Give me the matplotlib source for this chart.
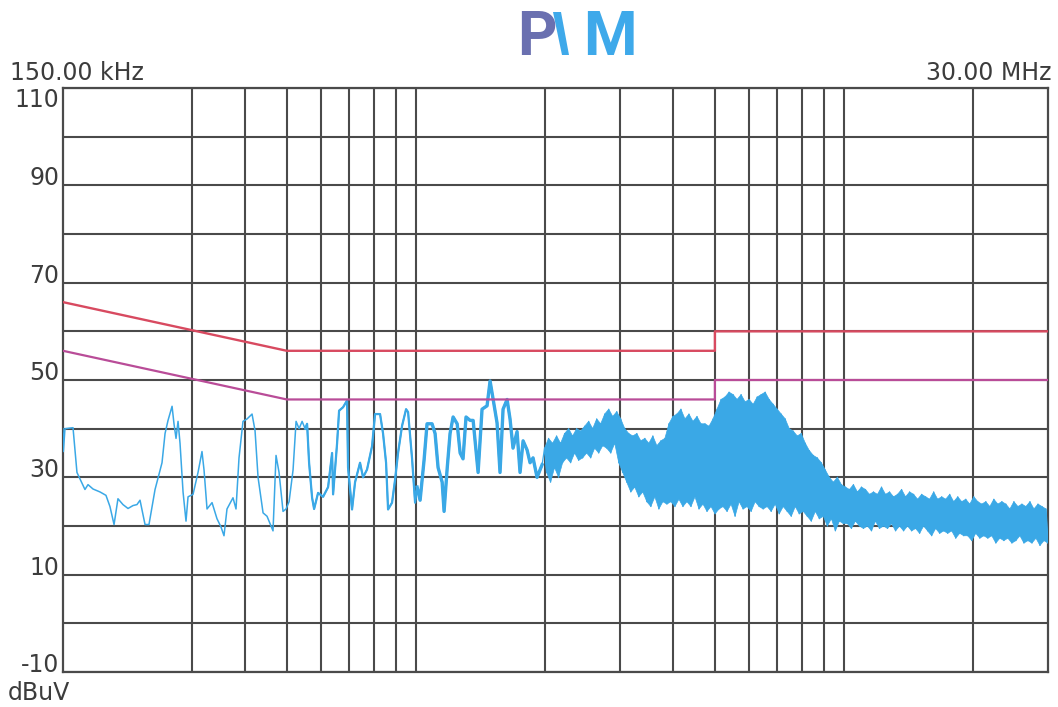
import numpy as np
import matplotlib
matplotlib.use("Agg")
import matplotlib.pyplot as plt
from matplotlib.patches import Polygon
from matplotlib import font_manager

# ---- measured conducted emission, 150 kHz ... 2 MHz (MHz, dBuV) ----
low_freq_mhz = [
    0.1500, 0.1503, 0.1516, 0.1583, 0.1617, 0.1688, 0.1716, 0.1763, 0.1830, 0.1890,
    0.1931, 0.1974, 0.2016, 0.2071, 0.2128, 0.2186, 0.2233, 0.2270, 0.2332, 0.2382,
    0.2461, 0.2555, 0.2597, 0.2639, 0.2697, 0.2725, 0.2755, 0.2785, 0.2815, 0.2861,
    0.2907, 0.2939, 0.3019, 0.3101, 0.3168, 0.3203, 0.3255, 0.3344, 0.3434, 0.3509,
    0.3566, 0.3624, 0.3743, 0.3804, 0.3866, 0.3950, 0.4037, 0.4147, 0.4214, 0.4283,
    0.4400, 0.4495, 0.4568, 0.4642, 0.4718, 0.4795, 0.4899, 0.4979, 0.5061, 0.5170,
    0.5255, 0.5341, 0.5428, 0.5516, 0.5576, 0.5636, 0.5728, 0.5790, 0.5915, 0.6077,
    0.6243, 0.6378, 0.6413, 0.6552, 0.6623, 0.6766, 0.6913, 0.6950, 0.7101, 0.7217,
    0.7413, 0.7534, 0.7697, 0.7908, 0.8037, 0.8256, 0.8390, 0.8527, 0.8619, 0.8806,
    0.8950, 0.9095, 0.9294, 0.9496, 0.9599, 0.9808, 0.9967, 1.0076, 1.024, 1.046,
    1.063, 1.092, 1.110, 1.128, 1.153, 1.165, 1.184, 1.203, 1.223, 1.250,
    1.270, 1.290, 1.311, 1.340, 1.362, 1.399, 1.429, 1.468, 1.492, 1.517,
    1.549, 1.574, 1.600, 1.635, 1.661, 1.688, 1.725, 1.753, 1.782, 1.821,
    1.850, 1.880, 1.921, 1.974,
]
low_level_dbuv = [
    40.0, 35.3, 40.0, 40.2, 31.0, 27.5, 28.5, 27.6, 27.0, 26.3,
    24.0, 20.3, 25.6, 24.4, 23.6, 24.2, 24.4, 25.3, 20.3, 20.3,
    27.5, 33.0, 39.0, 41.7, 44.6, 41.0, 38.0, 41.5, 37.0, 27.0,
    21.0, 26.0, 26.5, 31.0, 35.3, 31.5, 23.5, 24.8, 21.5, 19.8,
    18.0, 23.5, 25.8, 23.5, 34.0, 41.5, 42.0, 43.0, 39.6, 30.0,
    22.7, 22.0, 20.5, 19.0, 34.5, 31.0, 23.0, 23.5, 25.0, 31.5,
    41.5, 40.0, 41.5, 40.0, 41.0, 33.0, 25.8, 23.5, 26.8, 26.0,
    28.0, 35.0, 26.5, 37.0, 43.7, 44.4, 45.8, 32.0, 23.4, 29.0,
    33.0, 30.0, 31.6, 36.4, 43.0, 43.0, 39.0, 33.0, 23.4, 24.8,
    29.5, 35.0, 40.6, 44.0, 43.4, 33.8, 24.8, 28.0, 25.3, 33.5,
    41.0, 41.0, 39.0, 32.0, 29.0, 23.0, 31.6, 39.0, 42.4, 41.0,
    35.0, 33.8, 42.4, 41.7, 41.7, 31.0, 44.0, 44.7, 49.8, 46.0,
    41.2, 31.0, 44.0, 46.0, 42.0, 36.0, 39.4, 31.0, 37.5, 35.6,
    33.0, 34.0, 30.0, 32.6,
]

# ---- 2 MHz ... 30 MHz, equally log-spaced sweep points (dBuV) ----
# alternating local maxima / minima of the noise band
high_start_mhz, high_stop_mhz = 2.0, 30.0
high_level_dbuv = [
    36, 31, 38, 29, 37, 32, 38.5, 30, 37, 33,
    39, 34, 40, 33, 38.5, 35, 40, 33.5, 39.5, 34,
    40.5, 35, 41.5, 34, 40, 36, 42, 35, 41, 36.5,
    43, 36, 44, 35, 42.5, 37, 43.5, 33, 42, 31,
    40, 29, 39, 27, 38.5, 28, 39, 26, 37.5, 27,
    38, 25, 37, 24, 38.5, 26, 36.5, 23.5, 37.5, 25,
    38, 24.5, 41, 25, 42.5, 24, 43, 25.5, 44, 24,
    42, 25, 43, 24, 41.5, 26, 42.5, 23.5, 41, 24.5,
    41, 23, 40.5, 24, 42, 22.5, 44, 23.5, 46, 24,
    46.5, 23, 47.5, 24.5, 47, 22, 46, 25, 47, 23.5,
    45.5, 24, 46, 23, 45, 25, 46.5, 24, 47, 23.5,
    47.5, 24, 46, 23, 45, 24.5, 44, 22.5, 43, 24,
    42, 23, 40, 22, 39.5, 24, 38.5, 22.5, 39, 23,
    37, 22, 35.5, 21, 34.5, 23, 34, 21.5, 33, 22,
    31.5, 20, 30, 21.5, 29, 19, 30, 21, 28.5, 20.5,
    28, 20.5, 27.5, 19.5, 28.5, 21, 27, 20, 28, 19.5,
    27.5, 20, 26.5, 19, 27, 21, 26.5, 19.5, 28, 20,
    26.5, 19.5, 27, 20.5, 26, 19, 26.5, 20, 27.5, 19,
    26, 20, 27, 19, 26.5, 19.5, 25.5, 18.5, 26.5, 20,
    26, 19, 25.5, 18, 27, 19.5, 25.5, 18.5, 26, 19,
    25.5, 18.5, 26.5, 19, 25, 17.5, 26, 18.5, 25, 18,
    25.5, 18, 24.5, 17, 26, 18.5, 25, 17.5, 24.5, 18,
    25, 17.5, 24, 18, 25.5, 16.5, 24.5, 17.5, 25, 17,
    24.5, 17.5, 23.5, 16.5, 25, 17, 24, 18, 24.5, 16.5,
    24, 17, 25, 16.5, 23.5, 17.5, 24.5, 16, 24, 17, 23.5, 16.5,
]

# ---- EN 55022 class B mains limits ----
qp_freq_mhz = [0.15, 0.5, 5.0, 5.0, 30.0]
qp_limit_dbuv = [66, 56, 56, 60, 60]
av_freq_mhz = [0.15, 0.5, 5.0, 5.0, 30.0]
av_limit_dbuv = [56, 46, 46, 50, 50]

# ---- grid and axis labels ----
grid_freq_mhz = [0.3, 0.4, 0.5, 0.6, 0.7, 0.8, 0.9, 1.0,
                 2, 3, 4, 5, 6, 7, 8, 9, 10, 20]
grid_levels = list(range(-10, 111, 10))
labelled_levels = [90, 70, 50, 30, 10, -10]
top_level_label = 110
start_label = "150.00 kHz"
stop_label = "30.00 MHz"
unit_label = "dBuV"

W, H = 1058, 707
TRACE = "#3aa8e6"
GRID = "#4a4a4a"
TEXT = "#3c3c3c"

# narrow face for the logo letters when available
installed = {f.name for f in font_manager.fontManager.ttflist}
logo_family = ["Liberation Sans Narrow"] if "Liberation Sans Narrow" in installed \
    else ["Roboto", "DejaVu Sans"]

fig = plt.figure(figsize=(W / 100, H / 100), dpi=100)
fig.patch.set_facecolor("white")
ax = fig.add_axes([63 / W, 1 - 672 / H, 985 / W, 584 / H])
ax.set_xscale("log")
ax.set_xlim(0.15, 30.0)
ax.set_ylim(-10, 110)
ax.set_xticks([])
ax.set_yticks([])
ax.minorticks_off()
for s in ax.spines.values():
    s.set_color(GRID)
    s.set_linewidth(1.6)

for f in grid_freq_mhz:
    ax.axvline(f, color=GRID, lw=1.5, zorder=1)
for v in grid_levels:
    ax.axhline(v, color=GRID, lw=1.5, zorder=1)

# low-frequency part: single trace, thicker where it gets noisy
low_f = np.asarray(low_freq_mhz)
low_v = np.asarray(low_level_dbuv)
ax.plot(low_f, low_v, color=TRACE, lw=1.1, zorder=3)
noisy = low_f >= 0.55
ax.plot(low_f[noisy], low_v[noisy], color=TRACE, lw=1.6, zorder=3)
busy = low_f >= 1.0
ax.plot(low_f[busy], low_v[busy], color=TRACE, lw=2.4, zorder=3)

# high-frequency part: solid noise band with spiky edges
high_f = np.geomspace(high_start_mhz, high_stop_mhz, len(high_level_dbuv))
high_v = np.asarray(high_level_dbuv, dtype=float)
top_f, top_v = high_f[0::2], high_v[0::2]
bot_f, bot_v = high_f[1::2], high_v[1::2]
band = np.concatenate([np.column_stack([top_f, top_v]),
                       np.column_stack([bot_f[::-1], bot_v[::-1]])])
ax.add_patch(Polygon(band, closed=True, facecolor=TRACE, edgecolor=TRACE,
                     lw=0.5, zorder=3))
ax.plot(np.r_[low_f[-1:], high_f], np.r_[low_v[-1:], high_v],
        color=TRACE, lw=0.9, zorder=3)

ax.plot(qp_freq_mhz, qp_limit_dbuv, color="#d84a60", lw=1.7, zorder=4)
ax.plot(av_freq_mhz, av_limit_dbuv, color="#b94c98", lw=1.6, zorder=4)

ytr = ax.get_yaxis_transform()
fs = 17
for v in labelled_levels:
    ax.text(-0.004, v, f"{v}", transform=ytr, ha="right", va="baseline",
            fontsize=fs, color=TEXT)
ax.text(-0.004, top_level_label, f"{top_level_label}", transform=ytr,
        ha="right", va="top", fontsize=fs, color=TEXT)

fig.text(10 / W, 1 - 80 / H, start_label, ha="left", va="baseline",
         fontsize=fs, color=TEXT)
fig.text(1052 / W, 1 - 80 / H, stop_label, ha="right", va="baseline",
         fontsize=fs, color=TEXT)
fig.text(8 / W, 1 - 700 / H, unit_label, ha="left", va="baseline",
         fontsize=fs, color=TEXT)

# PMM logo
fig.text(517 / W, 1 - 55 / H, "P", ha="left", va="baseline", fontsize=44,
         fontweight="bold", family=logo_family, color="#6a70b0")
fig.text(583 / W, 1 - 55 / H, "M", ha="left", va="baseline", fontsize=44,
         fontweight="bold", family=logo_family, color="#3ea9ea")
wedge_px = [(553, 12), (561, 12), (569, 55), (562, 55)]
fig.patches.append(Polygon([(x / W, 1 - y / H) for x, y in wedge_px],
                           closed=True, transform=fig.transFigure,
                           facecolor="#3ea9ea", edgecolor="none"))

fig.savefig("out.png", dpi=100, facecolor="white")
